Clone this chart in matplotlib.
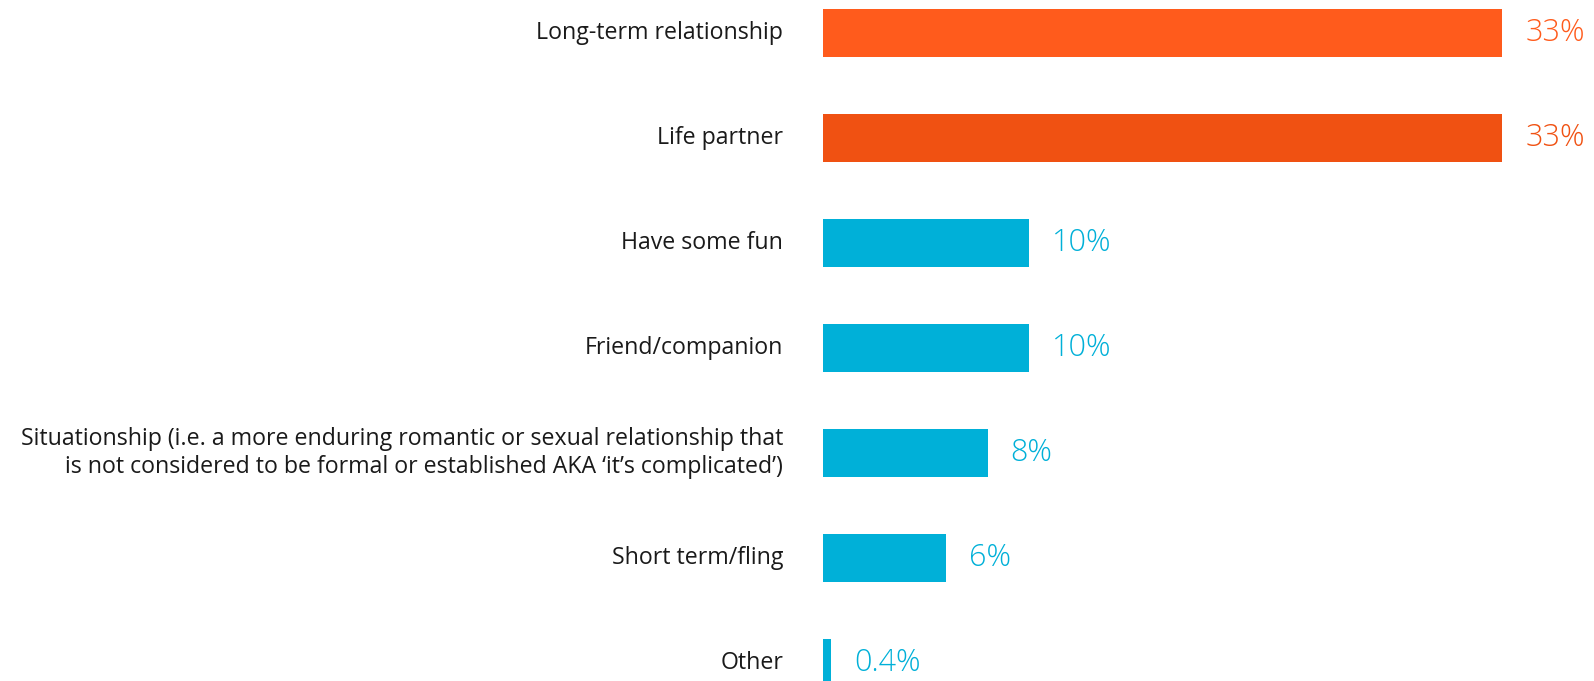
import matplotlib
matplotlib.use("Agg")
from matplotlib import pyplot as plt

plt.rcParams["font.family"] = ["Open Sans", "DejaVu Sans"]

# 数据
categories = [
    "Long-term relationship",
    "Life partner",
    "Have some fun",
    "Friend/companion",
    "Situationship (i.e. a more enduring romantic or sexual relationship that\nis not considered to be formal or established AKA \u2018it\u2019s complicated\u2019)",
    "Short term/fling",
    "Other",
]
values = [33, 33, 10, 10, 8, 6, 0.4]
value_labels = ["33%", "33%", "10%", "10%", "8%", "6%", "0.4%"]
colors = ["#FF5B1C", "#F05112", "#00B0D8", "#00B0D8", "#00B0D8", "#00B0D8", "#00B0D8"]

W, H = 1594, 681
fig = plt.figure(figsize=(W / 100, H / 100), dpi=100)
ax = fig.add_axes([823 / W, 0, (W - 823) / W, 1])

pos = list(range(len(values)))
ax.barh(pos, values, height=48 / 105, color=colors, left=0)

ax.set_xlim(0, (W - 823) / 20.58)
ax.set_ylim((H - 33) / 105, -33 / 105)
ax.axis("off")

# 左边的类别文字
for i, lab in enumerate(categories):
    ax.annotate(lab, xy=(0, i), xytext=(-40, 0), textcoords="offset pixels",
                ha="right", va="center", fontsize=16.7, color="#1a1a1a",
                linespacing=1.2, annotation_clip=False)

# 右边的数值
for i, (v, t, c) in enumerate(zip(values, value_labels, colors)):
    ax.annotate(t, xy=(v, i), xytext=(23, 0), textcoords="offset pixels",
                ha="left", va="center", fontsize=22, fontweight="light",
                color=c, annotation_clip=False)

fig.savefig("out.png", dpi=100)
